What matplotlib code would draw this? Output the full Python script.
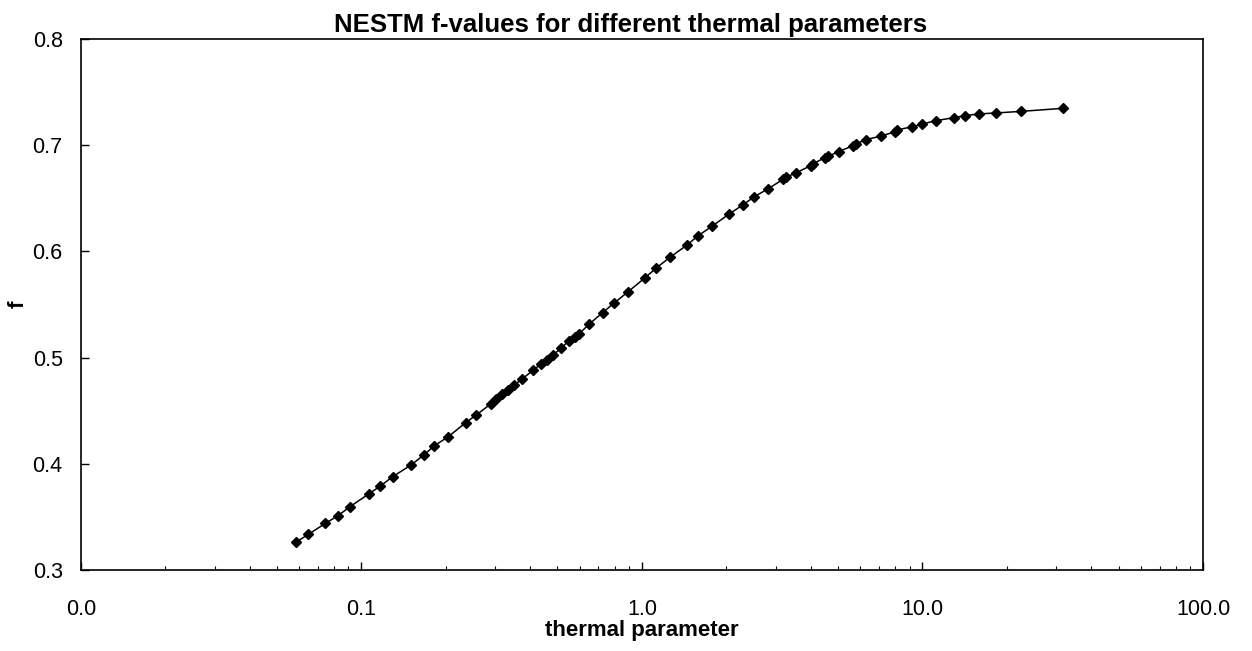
import numpy as np
import matplotlib.pyplot as plt
from matplotlib.ticker import FormatStrFormatter, LogLocator

plt.rcParams["font.family"] = ["Liberation Sans", "DejaVu Sans"]

# thermal parameter values
thermal = [0.0583, 0.0648, 0.0745, 0.0825, 0.0911, 0.1062, 0.1165, 0.1292,
           0.1506, 0.1666, 0.1819, 0.2045, 0.2357, 0.2572, 0.2892, 0.3013,
           0.3164, 0.3324, 0.3512, 0.3741, 0.4094, 0.4356, 0.4576, 0.4823,
           0.5148, 0.5481, 0.5756, 0.5949, 0.6477, 0.7244, 0.7968, 0.8916,
           1.027, 1.1215, 1.258, 1.449, 1.586, 1.775, 2.045, 2.299,
           2.516, 2.815, 3.183, 3.254, 3.541, 3.994, 4.070, 4.479,
           4.603, 5.024, 5.649, 5.776, 6.300, 7.088, 7.953, 8.123,
           9.160, 10.0, 11.18, 12.96, 14.18, 15.90, 18.28, 22.43, 31.76]

# NESTM f-values
f_values = [0.326, 0.3336, 0.3440, 0.3511, 0.3596, 0.3716, 0.3788, 0.3878,
            0.3990, 0.4081, 0.4169, 0.4257, 0.4389, 0.4461, 0.4564, 0.4608,
            0.4655, 0.4696, 0.4743, 0.4799, 0.4881, 0.4938, 0.4982, 0.5025,
            0.5088, 0.5157, 0.5198, 0.5220, 0.5314, 0.5424, 0.5515, 0.5619,
            0.5753, 0.5841, 0.5944, 0.6061, 0.6148, 0.6236, 0.6352, 0.6441,
            0.6516, 0.6589, 0.6679, 0.6698, 0.6739, 0.6808, 0.6824, 0.6883,
            0.6895, 0.6940, 0.6996, 0.7012, 0.7054, 0.7085, 0.7126, 0.7145,
            0.7173, 0.7201, 0.7232, 0.7260, 0.7279, 0.7295, 0.7304, 0.7319, 0.7348]

x_ticks = [0.01, 0.1, 1, 10, 100]
y_ticks = [0.3, 0.4, 0.5, 0.6, 0.7, 0.8]

fig = plt.figure(figsize=(12.52, 6.51), dpi=100)
ax = fig.add_axes([0.0645, 0.1244, 0.8964, 0.8156])

ax.plot(thermal, f_values, color="black", linewidth=1.1,
        marker="D", markersize=5)

ax.set_xscale("log")
ax.set_xlim(0.01, 100)
ax.set_ylim(0.3, 0.8)
ax.set_xticks(x_ticks)
ax.set_yticks(y_ticks)
ax.xaxis.set_major_formatter(FormatStrFormatter("%.1f"))
ax.yaxis.set_major_formatter(FormatStrFormatter("%.1f"))
ax.xaxis.set_minor_locator(LogLocator(base=10, subs=np.arange(2, 10)))
ax.xaxis.set_minor_formatter(plt.NullFormatter())

ax.tick_params(axis="x", which="major", direction="in", length=5.5, width=1,
               pad=21, labelsize=15.5)
ax.tick_params(axis="x", which="minor", direction="in", length=3.2, width=0.8)
ax.tick_params(axis="y", which="major", direction="in", length=5.5, width=1,
               pad=13, labelsize=15.5)

for s in ax.spines.values():
    s.set_linewidth(1.2)

ax.set_title("NESTM f-values for different thermal parameters",
             fontsize=18.5, fontweight="bold", pad=5, x=0.49)
ax.set_xlabel("thermal parameter", fontsize=16, fontweight="bold", labelpad=0)
ax.set_ylabel("f", fontsize=16, fontweight="bold", labelpad=3)

fig.savefig("out.png", dpi=100)
